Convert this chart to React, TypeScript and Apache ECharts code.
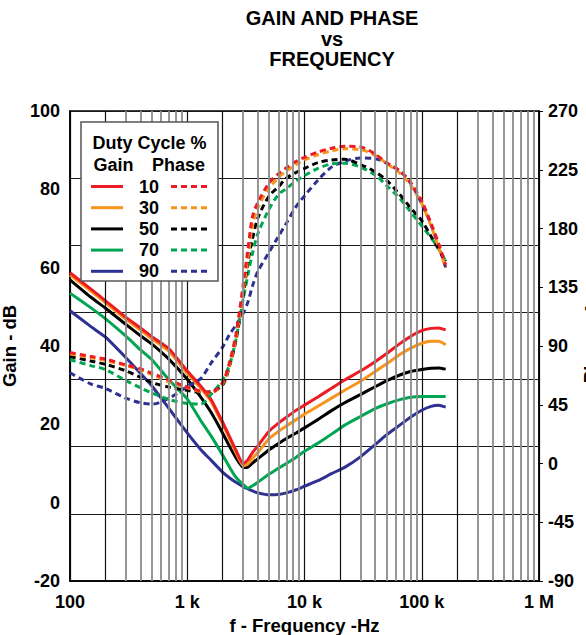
import React, { useEffect, useRef } from "react";
import * as echarts from "echarts";

// ---------- data ----------
const freqs = [100, 150, 200, 300, 400, 500, 700, 1000, 1300, 1600, 2000, 2300, 2600, 3000, 3300, 3600, 4000, 5000, 6000, 7000, 8500, 10000, 13000, 17000, 22000, 30000, 40000, 50000, 65000, 80000, 100000, 120000, 140000, 160000];

const duty = ["10", "30", "50", "70", "90"];

const gain10 = [58.7, 54.6, 51.6, 47.3, 44.6, 42.4, 39.3, 33.6, 29.8, 26.3, 20.6, 16.8, 13.4, 9.9, 11.0, 12.8, 14.5, 18.3, 20.3, 21.8, 23.6, 24.9, 27.0, 29.2, 31.3, 33.6, 36.0, 38.0, 40.6, 42.4, 43.9, 44.5, 44.6, 44.1];
const gain30 = [58.1, 54.1, 51.1, 46.8, 44.0, 41.8, 38.6, 33.0, 29.3, 25.8, 20.0, 16.3, 12.8, 9.4, 9.9, 11.3, 12.8, 16.4, 18.2, 19.6, 21.2, 22.6, 24.6, 26.7, 28.7, 31.0, 33.5, 35.4, 37.8, 39.4, 40.7, 41.2, 41.2, 40.3];
const gain50 = [56.9, 52.5, 49.7, 45.5, 42.6, 40.5, 36.6, 31.5, 27.0, 23.0, 17.8, 14.3, 11.5, 9.0, 9.1, 10.1, 11.2, 13.5, 15.1, 16.4, 17.8, 19.1, 21.2, 23.5, 25.5, 27.6, 29.6, 31.1, 32.6, 33.5, 34.0, 34.3, 34.4, 34.1];
const gain70 = [53.5, 49.8, 47.0, 42.5, 39.0, 36.5, 31.3, 26.5, 21.0, 17.0, 12.2, 9.0, 6.5, 4.6, 3.7, 4.3, 5.2, 7.3, 8.8, 10.0, 11.6, 13.1, 15.2, 17.5, 19.8, 22.0, 24.0, 25.2, 26.3, 26.9, 27.1, 27.1, 27.1, 27.1];
const gain90 = [49.0, 45.0, 42.3, 37.0, 33.0, 29.8, 24.0, 17.8, 13.6, 10.8, 7.8, 6.3, 5.2, 4.1, 3.5, 3.0, 2.5, 2.0, 2.1, 2.5, 3.3, 4.2, 5.6, 7.4, 9.0, 11.7, 14.8, 17.3, 19.8, 21.8, 23.6, 24.6, 24.9, 24.4];

const phase10 = [85, 82, 80, 75.5, 72.5, 69, 64, 58.5, 55.5, 54.5, 62, 78, 99, 137, 165, 189, 200, 215, 222, 226.5, 231.5, 234.5, 238.5, 241.5, 243, 242.5, 237, 230.5, 224, 215.5, 201, 184, 168, 152];
const phase30 = [84, 81, 79, 75, 71.5, 68, 62.5, 58, 55, 54, 61, 76, 96, 132, 158, 182, 196, 211, 219, 224, 229, 232.5, 236.5, 239.5, 241, 240.5, 236, 230, 222.5, 213.5, 199, 182, 165, 150];
const phase50 = [82, 78.5, 76, 71, 66, 62, 58.5, 56, 54.5, 55, 60, 75, 94, 128, 155, 172, 188, 205, 212, 218.5, 223, 226, 230.5, 232.5, 233, 229, 223.5, 217, 206, 196, 186, 174, 164, 155];
const phase70 = [79.5, 75, 72, 63.5, 58, 54, 49, 46, 45.5, 53, 64, 76, 95, 126, 145, 161, 176, 195, 206, 210.5, 216.5, 220.5, 226, 229.5, 230, 227, 221, 213, 203, 193, 182, 173, 164, 155];
const phase90 = [69.5, 61, 57.5, 50, 46.5, 45.5, 50, 59, 65, 77, 89, 99, 106, 115, 124, 136, 147, 162, 174, 184, 197, 205, 217, 227, 231.5, 234, 233.5, 230, 224, 215, 199, 183, 166, 150];

const gainSeries = [gain10, gain30, gain50, gain70, gain90];
const phaseSeries = [phase10, phase30, phase50, phase70, phase90];

const decadeValues = [100, 1000, 10000, 100000, 1000000];
const xTickLabels = ["100", "1 k", "10 k", "100 k", "1 M"];

// ---------- styling ----------
const colors = ["#ed1c24", "#f7941d", "#000000", "#00a651", "#2e3192"];
const FONT = "'Liberation Sans', Arial, Helvetica, sans-serif";
const DASH = [6, 4];

function buildOption() {
  const pairs = (vals: number[]) => freqs.map((f, i) => [f, vals[i]]);

  const minorLines: any[] = [];
  for (let d = 0; d < decadeValues.length - 1; d++) {
    for (let m = 2; m <= 9; m++) {
      minorLines.push({
        xAxis: decadeValues[d] * m,
        lineStyle: {
          color: m === 2 ? "#111" : "#8c8c8c",
          width: m === 2 ? 1.2 : 1.8,
          type: "solid",
        },
      });
    }
  }

  const series: any[] = [
    {
      type: "line",
      name: "grid",
      data: [],
      z: 1,
      silent: true,
      markLine: {
        silent: true,
        symbol: ["none", "none"],
        label: { show: false },
        emphasis: { disabled: true },
        animation: false,
        data: minorLines,
      },
    },
  ];

  for (let i = gainSeries.length - 1; i >= 0; i--) {
    series.push({
      type: "line",
      name: "Gain " + duty[i],
      yAxisIndex: 0,
      data: pairs(gainSeries[i]),
      showSymbol: false,
      symbol: "none",
      smooth: 0.15,
      z: 3,
      lineStyle: { color: colors[i], width: 3 },
    });
  }
  for (let i = phaseSeries.length - 1; i >= 0; i--) {
    series.push({
      type: "line",
      name: "Phase " + duty[i],
      yAxisIndex: 1,
      data: pairs(phaseSeries[i]),
      showSymbol: false,
      symbol: "none",
      smooth: 0.3,
      z: 4,
      lineStyle: { color: colors[i], width: 3, type: DASH },
    });
  }

  // legend (drawn as graphic)
  const LZ = 100;
  const legendEls: any[] = [
    {
      type: "rect",
      z: LZ,
      shape: { x: 81, y: 122, width: 137, height: 159 },
      style: { fill: "#fff", stroke: "#555", lineWidth: 1.5 },
    },
    {
      type: "text",
      z: LZ + 1,
      x: 149.5,
      y: 143,
      style: { text: "Duty Cycle %", align: "center", verticalAlign: "middle", font: `bold 18px ${FONT}`, fill: "#000" },
    },
    {
      type: "text",
      z: LZ + 1,
      x: 113.5,
      y: 165,
      style: { text: "Gain", align: "center", verticalAlign: "middle", font: `bold 18px ${FONT}`, fill: "#000" },
    },
    {
      type: "text",
      z: LZ + 1,
      x: 178.5,
      y: 165,
      style: { text: "Phase", align: "center", verticalAlign: "middle", font: `bold 18px ${FONT}`, fill: "#000" },
    },
  ];
  duty.forEach((d, i) => {
    const y = 186.5 + i * 21.2;
    legendEls.push({
      type: "line",
      z: LZ + 1,
      shape: { x1: 91, y1: y, x2: 123, y2: y },
      style: { stroke: colors[i], lineWidth: 3 },
    });
    legendEls.push({
      type: "text",
      z: LZ + 1,
      x: 149,
      y: y,
      style: { text: d, align: "center", verticalAlign: "middle", font: `bold 18px ${FONT}`, fill: "#000" },
    });
    legendEls.push({
      type: "line",
      z: LZ + 1,
      shape: { x1: 171, y1: y, x2: 207, y2: y },
      style: { stroke: colors[i], lineWidth: 3, lineDash: DASH },
    });
  });

  const titleLines = ["GAIN AND PHASE", "vs", "FREQUENCY"];

  return {
    animation: false,
    backgroundColor: "#fff",
    textStyle: { fontFamily: FONT },
    grid: {
      left: 70,
      top: 111,
      right: 47,
      bottom: 54,
      show: true,
      borderColor: "#000",
      borderWidth: 1.5,
      containLabel: false,
      outerBoundsMode: "none",
    },
    xAxis: {
      type: "log",
      logBase: 10,
      min: 100,
      max: 1000000,
      name: "f - Frequency -Hz",
      nameLocation: "middle",
      nameGap: 32,
      nameTextStyle: { fontSize: 18.5, fontWeight: "bold", color: "#000", fontFamily: FONT },
      axisLine: { show: true, onZero: false, lineStyle: { color: "#000", width: 1.5 } },
      axisTick: { show: false },
      axisLabel: {
        margin: 12,
        fontSize: 18,
        fontWeight: "bold",
        color: "#000",
        fontFamily: FONT,
        formatter: (v: number) => {
          const idx = Math.round(Math.log10(v)) - 2;
          return xTickLabels[idx] ?? "";
        },
      },
      splitLine: { show: true, lineStyle: { color: "#111", width: 1.2 } },
    },
    yAxis: [
      {
        type: "value",
        min: -20,
        max: 100,
        interval: 20,
        position: "left",
        name: "Gain - dB",
        nameLocation: "middle",
        nameGap: 45,
        nameTextStyle: { fontSize: 18.5, fontWeight: "bold", color: "#000", fontFamily: FONT },
        axisLine: { show: true, onZero: false, lineStyle: { color: "#000", width: 1.5 } },
        axisTick: { show: false },
        axisLabel: { margin: 10, fontSize: 18, fontWeight: "bold", color: "#000", fontFamily: FONT },
        splitLine: { show: false },
      },
      {
        type: "value",
        min: -90,
        max: 270,
        interval: 45,
        position: "right",
        axisLine: { show: true, onZero: false, lineStyle: { color: "#000", width: 1.5 } },
        axisTick: { show: true, inside: false, length: 4, lineStyle: { color: "#000", width: 1 } },
        axisLabel: { margin: 9, fontSize: 18, fontWeight: "bold", color: "#000", fontFamily: FONT },
        splitLine: { show: false },
      },
      {
        type: "value",
        min: 0,
        max: 7,
        interval: 1,
        position: "left",
        axisLine: { show: false },
        axisTick: { show: false },
        axisLabel: { show: false },
        splitLine: { show: true, lineStyle: { color: "#1a1a1a", width: 1.2 } },
      },
    ],
    series,
    graphic: [
      ...titleLines.map((t, i) => ({
        type: "text",
        x: 332,
        y: 18 + i * 20.5,
        style: { text: t, align: "center", verticalAlign: "middle", font: `bold 20px ${FONT}`, fill: "#000" },
      })),
      {
        type: "text",
        x: 590,
        y: 344,
        rotation: Math.PI / 2,
        style: { text: "Phase - °", align: "center", verticalAlign: "middle", font: `bold 18.5px ${FONT}`, fill: "#000" },
      },
      ...legendEls,
    ],
  };
}

export default function App() {
  const ref = useRef<HTMLDivElement>(null);
  useEffect(() => {
    if (!ref.current) return;
    const chart = echarts.init(ref.current, undefined, { renderer: "svg" });
    chart.setOption(buildOption() as any);
    return () => chart.dispose();
  }, []);
  return (
    <div
      ref={ref}
      style={{ position: "fixed", left: 0, top: 0, width: 586, height: 635, background: "#fff" }}
    />
  );
}
